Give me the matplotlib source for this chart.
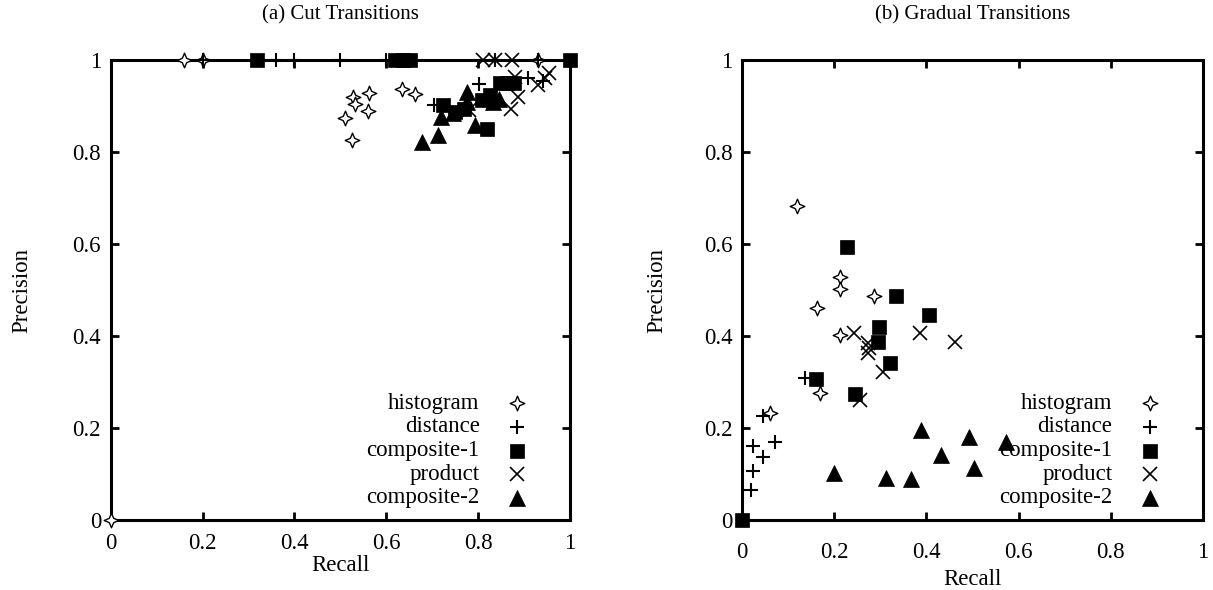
import matplotlib as mpl
import matplotlib.pyplot as plt
import numpy as np
from matplotlib.path import Path

plt.rcParams.update({
    "font.family": ["Liberation Serif", "DejaVu Serif"],
    "font.size": 16.5,
    "axes.linewidth": 2.2,
    "xtick.direction": "in",
    "ytick.direction": "in",
    "xtick.top": True,
    "ytick.right": True,
    "xtick.major.size": 6,
    "ytick.major.size": 6,
    "xtick.major.width": 2.0,
    "ytick.major.width": 2.0,
    "xtick.major.pad": 9,
    "ytick.major.pad": 7,
})

labels = ["histogram", "distance", "composite-1", "product", "composite-2"]
tick_vals = [0, 0.2, 0.4, 0.6, 0.8, 1]
tick_text = ["0", "0.2", "0.4", "0.6", "0.8", "1"]

# (a) cut transitions
hist_cut_x = [0.0, 0.16, 0.20, 0.528, 0.563, 0.532, 0.51, 0.559, 0.525, 0.634, 0.663, 0.931]
hist_cut_y = [0.0, 1.0, 1.0, 0.919, 0.929, 0.904, 0.873, 0.889, 0.826, 0.936, 0.926, 1.0]
dist_cut_x = [0.20, 0.36, 0.40, 0.50, 0.60, 0.704, 0.801, 0.837, 0.909, 0.931, 0.94]
dist_cut_y = [1.0, 1.0, 1.0, 1.0, 1.0, 0.902, 0.948, 1.0, 0.96, 1.0, 0.955]
comp1_cut_x = [0.318, 0.619, 0.637, 0.651, 1.0, 0.724, 0.75, 0.77, 0.808, 0.826, 0.848, 0.862, 0.877, 0.819]
comp1_cut_y = [1.0, 1.0, 1.0, 1.0, 1.0, 0.902, 0.888, 0.893, 0.913, 0.924, 0.949, 0.951, 0.951, 0.849]
prod_cut_x = [0.811, 0.837, 0.873, 0.88, 0.887, 0.872, 0.78, 0.931, 0.946, 0.953]
prod_cut_y = [1.0, 1.0, 1.0, 0.962, 0.92, 0.893, 0.891, 0.946, 0.96, 0.971]
comp2_cut_x = [0.677, 0.713, 0.719, 0.745, 0.775, 0.775, 0.793, 0.833, 0.845]
comp2_cut_y = [0.822, 0.837, 0.877, 0.885, 0.931, 0.909, 0.859, 0.909, 0.915]

# (b) gradual transitions
hist_grad_x = [0.119, 0.212, 0.212, 0.163, 0.286, 0.212, 0.169, 0.061]
hist_grad_y = [0.683, 0.528, 0.502, 0.461, 0.486, 0.402, 0.277, 0.232]
dist_grad_x = [0.137, 0.045, 0.023, 0.072, 0.045, 0.023, 0.020]
dist_grad_y = [0.308, 0.226, 0.161, 0.170, 0.138, 0.107, 0.065]
comp1_grad_x = [0.0, 0.228, 0.334, 0.406, 0.298, 0.294, 0.320, 0.161, 0.246]
comp1_grad_y = [0.0, 0.593, 0.486, 0.445, 0.419, 0.388, 0.341, 0.306, 0.274]
prod_grad_x = [0.243, 0.274, 0.276, 0.274, 0.385, 0.462, 0.305, 0.257]
prod_grad_y = [0.407, 0.384, 0.373, 0.362, 0.407, 0.388, 0.322, 0.261]
comp2_grad_x = [0.200, 0.312, 0.366, 0.388, 0.431, 0.493, 0.503, 0.573]
comp2_grad_y = [0.103, 0.091, 0.089, 0.196, 0.141, 0.181, 0.114, 0.170]

# gnuplot-like 4 point star
r = 0.3
star = Path([(0, 1), (r, r), (1, 0), (r, -r), (0, -1), (-r, -r), (-1, 0), (-r, r), (0, 1)],
            [Path.MOVETO] + [Path.LINETO] * 7 + [Path.CLOSEPOLY])

styles = [
    dict(marker=star, ms=10.5, mfc="white", mec="black", mew=1.0),
    dict(marker="+", ms=9.5, mec="black", mew=1.5),
    dict(marker="s", ms=9.5, mfc="black", mec="black", mew=0.5),
    dict(marker="x", ms=10, mec="black", mew=1.2),
    dict(marker="^", ms=11, mfc="black", mec="black", mew=0.5),
]

fig = plt.figure(figsize=(12.13, 5.9), dpi=100)
ax1 = fig.add_axes([0.0913, 0.1186, 0.3787, 0.7797])
ax2 = fig.add_axes([0.6117, 0.1186, 0.3801, 0.7797])

panels = [
    (ax1, "(a) Cut Transitions",
     [(hist_cut_x, hist_cut_y), (dist_cut_x, dist_cut_y), (comp1_cut_x, comp1_cut_y),
      (prod_cut_x, prod_cut_y), (comp2_cut_x, comp2_cut_y)], 9, 1, 29),
    (ax2, "(b) Gradual Transitions",
     [(hist_grad_x, hist_grad_y), (dist_grad_x, dist_grad_y), (comp1_grad_x, comp1_grad_y),
      (prod_grad_x, prod_grad_y), (comp2_grad_x, comp2_grad_y)], 16, 4, 26),
]

for ax, title, series, xpad, xlpad, ylpad in panels:
    for (xs, ys), st in zip(series, styles):
        ax.plot(xs, ys, ls="none", clip_on=False, zorder=3, **st)
    ax.set_xlim(0, 1)
    ax.set_ylim(0, 1)
    ax.set_xticks(tick_vals)
    ax.set_xticklabels(tick_text)
    ax.set_yticks(tick_vals)
    ax.set_yticklabels(tick_text)
    ax.tick_params(axis="x", pad=xpad)
    ax.set_xlabel("Recall", labelpad=xlpad)
    ax.set_ylabel("Precision", labelpad=ylpad)
    ax.set_title(title, fontsize=15, pad=29)

    # gnuplot style key: text right aligned, sample to the right
    for i, (lab, st) in enumerate(zip(labels, styles)):
        yk = 0.254 - i * 0.0515
        ax.text(0.803, yk, lab, transform=ax.transAxes, ha="right", va="center")
        ax.plot([0.884], [yk], transform=ax.transAxes, ls="none", clip_on=False, **st)

fig.savefig("out.png", dpi=100)
